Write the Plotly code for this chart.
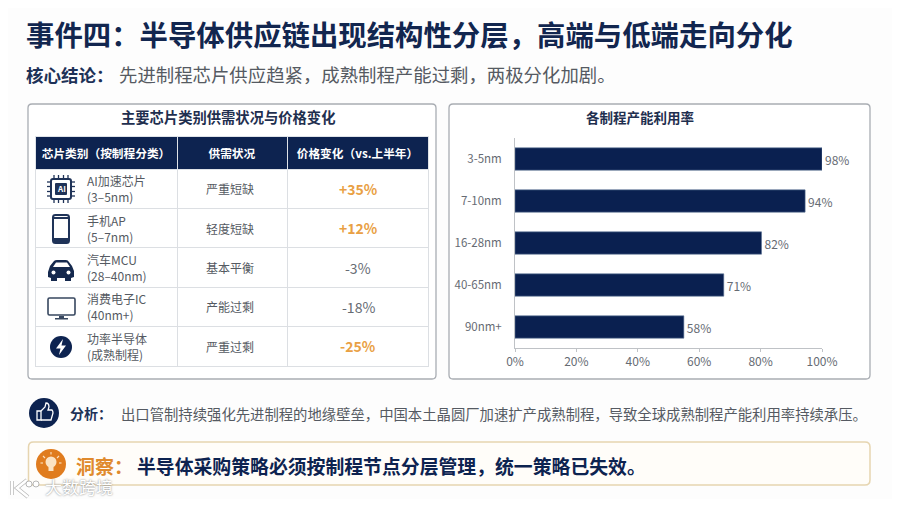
import re
import plotly.graph_objects as go

W, H = 900, 507
# the page keeps an 8px body margin, so the figure is smaller and every pixel position is shifted by it
PAGE_PAD = 8
FIG_W, FIG_H = W - 2 * PAGE_PAD, H - 2 * PAGE_PAD
FONT = "Noto Sans CJK SC"
NAVY = "#0d2350"
GRAY = "#666b73"
ORANGE = "#e9a044"

# table data
table_head = ["<b>芯片类别（按制程分类）</b>", "<b>供需状况</b>", "<b>价格变化（vs.上半年）</b>"]
chip_names = ["AI加速芯片<br>(3–5nm)", "手机AP<br>(5–7nm)", "汽车MCU<br>(28–40nm)", "消费电子IC<br>(40nm+)", "功率半导体<br>(成熟制程)"]
supply = ["严重短缺", "轻度短缺", "基本平衡", "产能过剩", "严重过剩"]
price = ["<b>+35%</b>", "<b>+12%</b>", "-3%", "-18%", "<b>-25%</b>"]
price_colors = [ORANGE, ORANGE, GRAY, GRAY, ORANGE]

# bar data (bar lengths as drawn differ a little from their printed labels)
nodes = ["3-5nm", "7-10nm", "16-28nm", "40-65nm", "90nm+"]
bar_len = [100, 94.5, 80.3, 68, 55]
bar_labels = ["98%", "94%", "82%", "71%", "58%"]


def fx(x):
    return (x - PAGE_PAD) / FIG_W


def fy(y):
    return 1 - (y - PAGE_PAD) / FIG_H


def to_paper(path):
    # path is written in screen pixels, shapes want paper coords
    return re.sub(r"(-?[\d.]+)[ ,](-?[\d.]+)", lambda m: f"{fx(float(m[1])):.5f},{fy(float(m[2])):.5f}", path)


def round_rect(x0, y0, x1, y1, r):
    return (f"M{x0+r} {y0} L{x1-r} {y0} Q{x1} {y0} {x1} {y0+r} L{x1} {y1-r} Q{x1} {y1} {x1-r} {y1} "
            f"L{x0+r} {y1} Q{x0} {y1} {x0} {y1-r} L{x0} {y0+r} Q{x0} {y0} {x0+r} {y0} Z")


shapes = []


def add_path(path, fill="rgba(0,0,0,0)", line=None, width=1, layer="above"):
    shapes.append(dict(type="path", xref="paper", yref="paper", path=to_paper(path), fillcolor=fill,
                       line=dict(color=line or "rgba(0,0,0,0)", width=width if line else 0), layer=layer))


def add_circle(cx, cy, r, fill):
    shapes.append(dict(type="circle", xref="paper", yref="paper", x0=fx(cx-r), x1=fx(cx+r), y0=fy(cy+r), y1=fy(cy-r),
                       fillcolor=fill, line=dict(width=0), layer="above"))


annos = []


def add_text(x, y, text, size, color, anchor="left", **font):
    # annotations carry about 2px of padding on their left side
    if anchor == "left":
        x -= 2
    annos.append(dict(xref="paper", yref="paper", x=fx(x), y=fy(y), text=text, showarrow=False, xanchor=anchor,
                      yanchor="middle", align=anchor, font=dict(family=FONT, size=size, color=color, **font)))


# panels
add_path(round_rect(28, 104, 436, 379, 4), "#ffffff", "#a9adb3", 1.3, "below")
add_path(round_rect(449, 104, 870, 379, 4), "#ffffff", "#a9adb3", 1.3, "below")
add_path(round_rect(28.5, 442, 870, 485, 5), "#fffdf9", "#e6d5b0", 1.5, "below")

# chip icon
add_path(round_rect(51, 179, 71, 199, 2), "#ffffff", "#1f3358", 2)
add_path(round_rect(55, 183, 67, 195, 1), "#1f3358")
for d in (-7, -2.5, 2.5, 7):
    add_path(f"M47 {189+d} L51 {189+d}", line="#1f3358", width=1.3)
    add_path(f"M71 {189+d} L75 {189+d}", line="#1f3358", width=1.3)
    add_path(f"M{61+d} 175 L{61+d} 179", line="#1f3358", width=1.3)
    add_path(f"M{61+d} 199 L{61+d} 203", line="#1f3358", width=1.3)
add_text(61, 189, "<b>AI</b>", 8, "#ffffff", "center")

# phone icon
add_path(round_rect(53, 215, 69, 243, 2.5), "#ffffff", "#1f3358", 2)
add_path("M53 217 L69 217 L69 219 L53 219 Z", "#1f3358")
add_path("M53 238 L69 238 L69 243 L53 243 Z", "#1f3358")

# car icon
add_path("M48 272 L50 266 L54 261 Q55 260 57 260 L66 260 Q68 260 69 262 L72 266 L74 271 L74 277 L71 278 "
         "L71 281 L65 281 L65 278 L57 278 L57 281 L51 281 L51 278 L48 277 Z", "#15294e")
add_path("M53 267 L56 262.5 L67 262.5 L70 267 Z", "#ffffff")
add_circle(53.5, 272.5, 2, "#ffffff")
add_circle(68.5, 272.5, 2, "#ffffff")

# monitor icon
add_path(round_rect(48, 298, 75, 315, 1.5), "#ffffff", "#37475f", 1.6)
add_path("M59 316 L64 316 L64 318 L68 318 L68 319.5 L55 319.5 L55 318 L59 318 Z", "#37475f")

# power icon
add_circle(61, 347, 11, "#0d2350")
add_path("M63 339 L56 348.5 L60.5 348.5 L59 355 L66 345.5 L61.5 345.5 Z", "#ffffff")

# thumbs up icon
add_circle(44, 413, 15, NAVY)
add_path("M37 411 L41 411 L41 420 L37 420 Z", line="#ffffff", width=1.3)
add_path("M41 411 L45 407 L46 403 Q49 403 49 407 L48 410 L52 410 Q53 411 53 413 L51 420 L41 420", line="#ffffff", width=1.3)

# bulb icon
add_circle(51, 464, 15, "#e07c1e")
add_circle(51, 462, 5.5, "#fbe3c4")
add_path("M48.5 467 L53.5 467 L53.5 471 L48.5 471 Z", "#fbe3c4")
for p in ("M51 452 L51 454.5", "M43 456 L45 458", "M59 456 L57 458", "M40.5 463 L43 463", "M59 463 L61.5 463"):
    add_path(p, line="#fbe3c4", width=1.1)

# watermark logo
add_path("M12 481 L12 495 M27 480 L17 488 L28 497", line="#b5b5b5", width=4)
add_path("M12 481 L12 495 M27 480 L17 488 L28 497", line="#ffffff", width=2.6)
for cx in (29, 36):
    add_path(f"M{cx-3} 484 Q{cx-3} 481 {cx} 481 Q{cx+3} 481 {cx+3} 484 Q{cx+3} 487 {cx} 487 Q{cx-3} 487 {cx-3} 484 Z",
             "#ffffff", "#a5a5a5", 0.8)

add_text(26, 34, "<b>事件四：半导体供应链出现结构性分层，高端与低端走向分化</b>", 28.4, "#12264f")
add_text(26, 74, "<b>核心结论：</b>", 17.5, "#1d3157")
add_text(119, 74, "先进制程芯片供应趋紧，成熟制程产能过剩，两极分化加剧。", 18.4, "#555a62")
add_text(227.5, 117, "<b>主要芯片类别供需状况与价格变化</b>", 14.3, "#1f2f4f", "center")
add_text(640, 117, "<b>各制程产能利用率</b>", 13.5, "#1f2f4f", "center")
add_text(70, 413, "<b>分析：</b>", 14, "#1d3157")
add_text(121, 413, "出口管制持续强化先进制程的地缘壁垒，中国本土晶圆厂加速扩产成熟制程，导致全球成熟制程产能利用率持续承压。", 14.35, "#555a62")
add_text(76, 465, "<b>洞察：</b>", 19, "#e08a2c")
add_text(137, 465, "<b>半导体采购策略必须按制程节点分层管理，统一策略已失效。</b>", 18.85, NAVY)
add_text(45, 486, "大数跨境", 17, "#ffffff", shadow="0 0 2px #777777")

# body cell text: go.Table can't fit two lines in a 39px row, so these sit on top of its grid
for i in range(len(chip_names)):
    row_y = 168 + 39.4 * (i + 0.5) + 1
    add_text(87, row_y, chip_names[i], 12, "#555a62")
    add_text(230, row_y, supply[i], 12, "#555a62", "center")
    add_text(358, row_y, price[i], 14, price_colors[i], "center")

fig = go.Figure()

fig.add_trace(go.Table(
    domain=dict(x=[fx(35), fx(428.5)], y=[fy(368), fy(136)]),
    columnwidth=[142, 110, 141],
    header=dict(values=table_head, height=32, align="center", fill_color=NAVY,
                line=dict(color="#dfe3e8", width=1),
                font=dict(family=FONT, size=11.7, color="#ffffff")),
    cells=dict(values=[[""] * 5, [""] * 5, [""] * 5],
               height=39.4, fill_color="rgba(255,255,255,0)",
               line=dict(color="#dcdfe3", width=1)),
))

fig.add_trace(go.Bar(
    x=bar_len, y=nodes, orientation="h", width=0.53,
    marker=dict(color="#0a2050", line=dict(color="#5d7396", width=0.6)),
    text=bar_labels, textposition="outside", cliponaxis=False,
    textfont=dict(family=FONT, size=12, color=GRAY),
))

fig.update_layout(
    width=FIG_W, height=FIG_H,
    margin=dict(l=0, r=0, t=0, b=0, autoexpand=False),
    paper_bgcolor="#fdfdfd",
    plot_bgcolor="rgba(0,0,0,0)",
    font=dict(family=FONT),
    showlegend=False,
    shapes=shapes,
    annotations=annos,
    xaxis=dict(domain=[fx(515), fx(822)], range=[0, 100], tickvals=[0, 20, 40, 60, 80, 100],
               ticktext=["0%", "20%", "40%", "60%", "80%", "100%"], showgrid=False, zeroline=False,
               showline=True, linecolor="#bfc2c6", ticks="outside", ticklen=3, tickcolor="#bfc2c6",
               tickfont=dict(size=12, color=GRAY), anchor="y"),
    yaxis=dict(domain=[fy(348), fy(138)], autorange="reversed", categoryorder="array", categoryarray=nodes,
               showgrid=False, zeroline=False, showline=True, linecolor="#bfc2c6", ticks="",
               ticklabelstandoff=10, tickfont=dict(size=11.5, color=GRAY), anchor="x"),
)

fig.write_html("out.html")
